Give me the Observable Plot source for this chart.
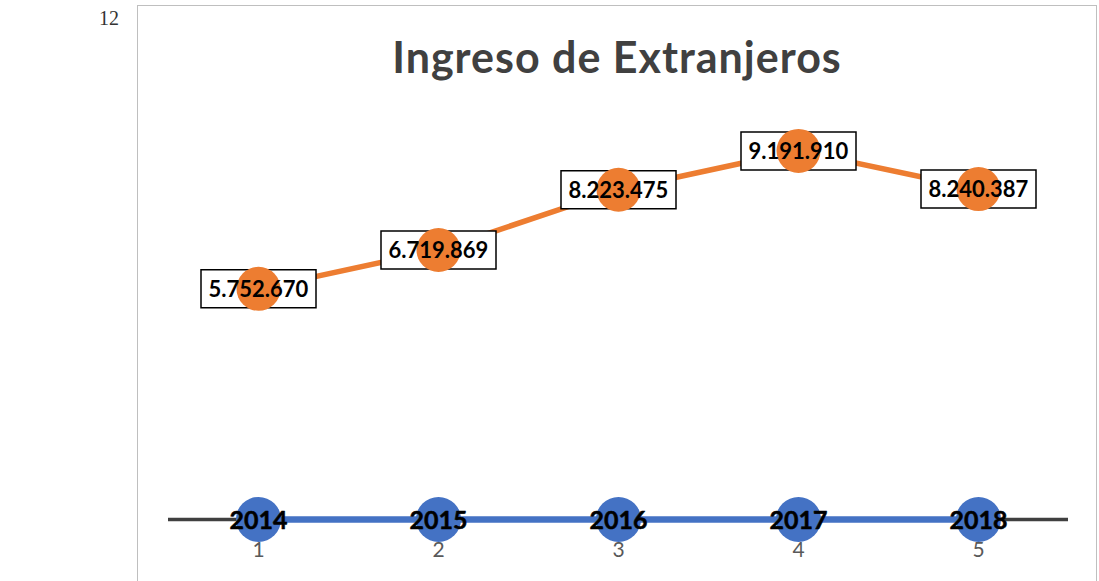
<!DOCTYPE html>
<html>
<head>
<meta charset="utf-8">
<script src="https://cdn.jsdelivr.net/npm/d3@7"></script>
<script src="https://cdn.jsdelivr.net/npm/@observablehq/plot@0.6"></script>
<style>
  body { margin: 0; background: #fff; }
  #wrap { position: relative; width: 1099px; height: 581px; overflow: hidden; background: #fff; }
  #page { position: absolute; left: 99px; top: 7px; font-family: "Liberation Serif", serif; font-size: 20px; color: #333; }
  #box { position: absolute; left: 137px; top: 5px; width: 960px; height: 640px; border: 1px solid #bfbfbf; box-sizing: border-box; }
  #title { position: absolute; left: 137px; width: 960px; top: 31px; text-align: center; font-family: Lato, sans-serif; font-weight: bold; font-size: 43px; letter-spacing: 1px; color: #404040; }
  #chart { position: absolute; left: 0; top: 0; }
</style>
</head>
<body>
<div id="wrap">
  <div id="page">12</div>
  <div id="box"></div>
  <div id="title">Ingreso de Extranjeros</div>
  <div id="chart"></div>
</div>
<script>
const positions = [1, 2, 3, 4, 5];
const years = [2014, 2015, 2016, 2017, 2018];
const visitors = [5752670, 6719869, 8223475, 9191910, 8240387];
const visitorLabels = ["5.752.670", "6.719.869", "8.223.475", "9.191.910", "8.240.387"];
const tickLabels = ["1", "2", "3", "4", "5"];

const orange = positions.map((p, i) => ({x: p, v: visitors[i], label: visitorLabels[i]}));
const blue = positions.map((p, i) => ({x: p, v: years[i], label: String(years[i])}));

const boxSymbol = { draw(ctx) { ctx.rect(-57.5, -19, 115, 38); } };

const chart = Plot.plot({
  width: 1099,
  height: 581,
  marginLeft: 168,
  marginRight: 31,
  marginTop: 118,
  marginBottom: 62,
  x: { domain: [0.5, 5.5], axis: null },
  y: { domain: [0, 10000000], axis: null },
  style: { background: "transparent" },
  marks: [
    Plot.ruleY([0], { stroke: "#404040", strokeWidth: 3.5 }),
    Plot.line(blue, { x: "x", y: "v", stroke: "#4472C4", strokeWidth: 6.5 }),
    Plot.dot(blue, { x: "x", y: "v", r: 22.5, fill: "#4472C4" }),
    Plot.line(orange, { x: "x", y: "v", stroke: "#ED7D31", strokeWidth: 5.5 }),
    Plot.dot(orange, { x: "x", y: "v", symbol: boxSymbol, r: 10, fill: "white", stroke: "black", strokeWidth: 1.5 }),
    Plot.dot(orange, { x: "x", y: "v", r: 22, fill: "#ED7D31" }),
    Plot.text(orange, { x: "x", y: "v", text: "label", dy: 1, fontFamily: "Lato, sans-serif", fontWeight: "bold", fontSize: 22, fill: "black" }),
    Plot.text(blue, { x: "x", y: "v", text: "label", dy: 2, fontFamily: "Lato, sans-serif", fontWeight: "bold", fontSize: 25, fill: "black", stroke: "black", strokeWidth: 0.5 }),
    Plot.axisX(positions, { anchor: "bottom", tickSize: 0, tickPadding: 23, tickFormat: (d, i) => tickLabels[i], fontFamily: "Lato, sans-serif", fontSize: 21, fill: "#595959", label: null })
  ]
});
document.getElementById("chart").appendChild(chart);
</script>
</body>
</html>
